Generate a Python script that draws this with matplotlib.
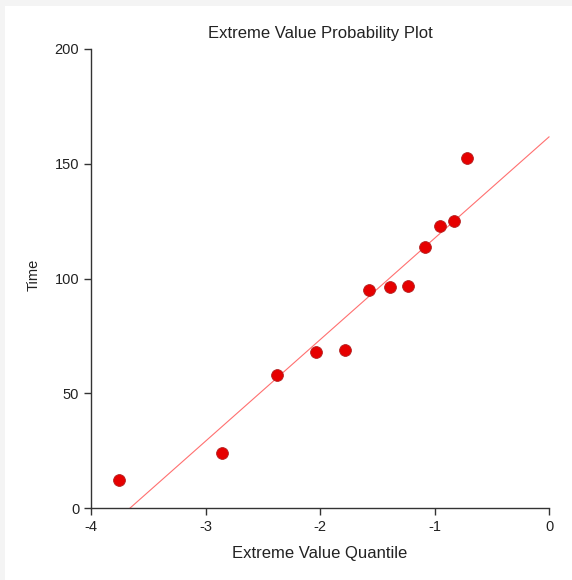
import numpy as np
import matplotlib
matplotlib.use("Agg")
import matplotlib.pyplot as plt
from matplotlib.patches import Rectangle

# data
quantile = [-3.755, -2.856, -2.376, -2.035, -1.782, -1.572, -1.389, -1.231, -1.083, -0.952, -0.830, -0.716]
time = [12.2, 24.0, 58.0, 68.0, 68.8, 95.0, 96.3, 96.7, 113.7, 122.9, 125.1, 152.5]
fit_intercept = 161.7
fit_slope = 44.2
x_ticks = [-4, -3, -2, -1, 0]
y_ticks = [0, 50, 100, 150, 200]

plt.rcParams["font.family"] = ["Liberation Sans", "DejaVu Sans"]

fig = plt.figure(figsize=(5.72, 5.8), dpi=100)
fig.patch.set_facecolor("#f4f4f4")
fig.patches.append(Rectangle((5 / 572, 0), 1, 1 - 6 / 580, transform=fig.transFigure,
                             facecolor="white", edgecolor="none", zorder=-10))
ax = fig.add_axes([91 / 572, 72 / 580, 458 / 572, 459 / 580])
ax.set_facecolor("none")

xx = np.array([-(fit_intercept / fit_slope), 0.0])
ax.plot(xx, fit_intercept + fit_slope * xx, "-", color="#ff7070", lw=0.8, zorder=2, clip_on=False)
ax.plot(quantile, time, "o", ms=8.5, color="#e60000", mec="#b22222", mew=0.6, zorder=3, clip_on=False)

ax.set_xlim(-4, 0)
ax.set_ylim(0, 200)
ax.set_xticks(x_ticks)
ax.set_yticks(y_ticks)
ax.set_xticklabels([str(t) for t in x_ticks])
for s in ["top", "right"]:
    ax.spines[s].set_visible(False)
for s in ["left", "bottom"]:
    ax.spines[s].set_color("#333333")
    ax.spines[s].set_linewidth(1.0)
ax.tick_params(direction="out", length=5, width=1.0, color="#333333", labelsize=10.5, labelcolor="#222222")

ax.set_title("Extreme Value Probability Plot", fontsize=12, color="#222222", pad=8)
ax.set_xlabel("Extreme Value Quantile", fontsize=12, color="#222222", va="baseline")
ax.set_ylabel("Time", fontsize=10.5, color="#222222", va="baseline", rotation_mode="anchor")
ax.xaxis.set_label_coords(0.5, -0.109)
ax.yaxis.set_label_coords(-0.1157, 0.508)

fig.savefig("out.png", dpi=100, facecolor=fig.get_facecolor())
